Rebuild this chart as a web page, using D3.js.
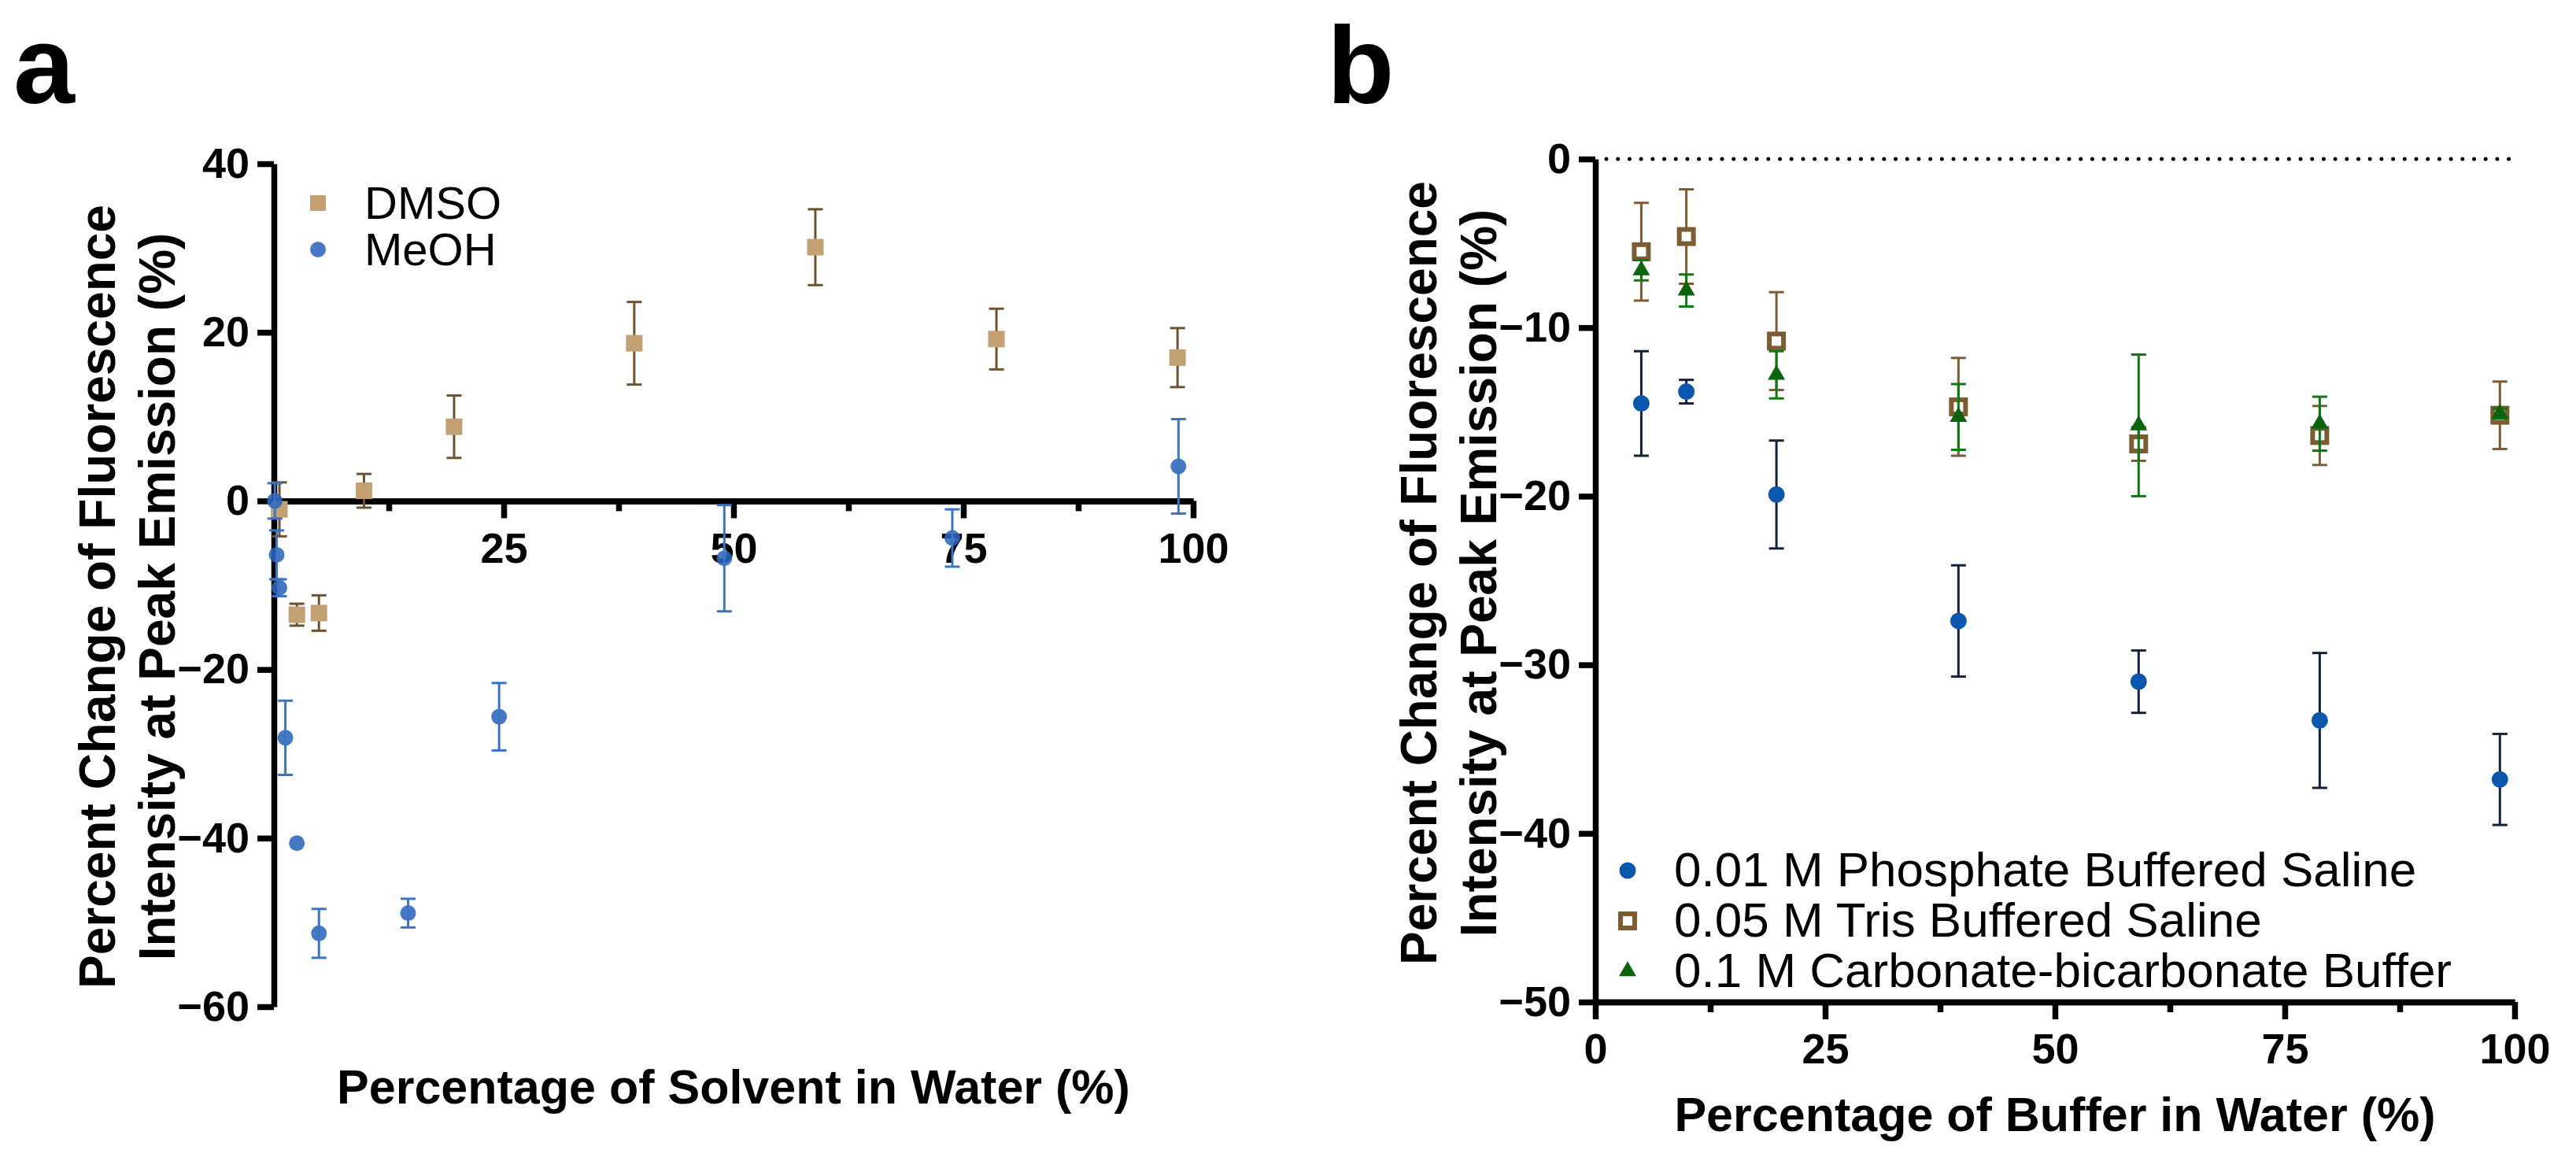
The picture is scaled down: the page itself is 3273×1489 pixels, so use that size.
<!DOCTYPE html>
<html>
<head>
<meta charset="utf-8">
<script src="https://cdn.jsdelivr.net/npm/d3@7"></script>
<style>
  body { margin: 0; background: #fff; }
  text { font-family: 'Liberation Sans', Arial, sans-serif; }
</style>
</head>
<body>
<script>
// panel a: solvent series
const dmsoX = [0.6, 2.5, 4.9, 9.8, 19.6, 39.2, 58.9, 78.6, 98.3]
const dmsoY = [-1.0, -13.5, -13.3, 1.2, 8.8, 18.7, 30.1, 19.2, 17.0]
const dmsoErr = [3.2, 1.3, 2.1, 2.0, 3.7, 4.9, 4.5, 3.6, 3.5]

const meohX = [0.1, 0.3, 0.6, 1.25, 2.5, 4.9, 14.6, 24.5, 49.0, 73.8, 98.4]
const meohY = [0.0, -6.4, -10.3, -28.1, -40.6, -51.3, -48.9, -25.6, -6.8, -4.4, 4.1]
const meohErr = [2.1, 2.9, 1.0, 4.4, 0, 2.9, 1.7, 4.0, 6.3, 3.4, 5.6]

// panel b: buffer series
const bufferX = [5, 9.9, 19.7, 39.5, 59.1, 78.8, 98.4]
const pbsY = [-14.5, -13.8, -19.9, -27.4, -31.0, -33.3, -36.8]
const pbsErr = [3.1, 0.7, 3.2, 3.3, 1.85, 4.0, 2.7]
const trisY = [-5.5, -4.6, -10.8, -14.7, -16.9, -16.4, -15.2]
const trisErr = [2.9, 2.8, 2.9, 2.9, 1.0, 1.75, 2.0]
const carbY = [-6.6, -7.8, -12.8, -15.3, -15.8, -15.7, -15.1]
const carbErr = [0.6, 0.95, 1.4, 1.95, 4.2, 1.6, 0.3]

const xTicksMajor = [25, 50, 75, 100]
const xTicksB = [0, 25, 50, 75, 100]
const xTicksMinor = [12.5, 37.5, 62.5, 87.5]
const yTicksA = [40, 20, 0, -20, -40, -60]
const yTicksB = [0, -10, -20, -30, -40, -50]

const legendA = ['DMSO', 'MeOH']
const legendB = ['0.01 M Phosphate Buffered Saline', '0.05 M Tris Buffered Saline', '0.1 M Carbonate-bicarbonate Buffer']
const yTitle = ['Percent Change of Fluorescence', 'Intensity at Peak Emission (%)']

const width = 3273
const height = 1489
const tickFont = 54

const svg = d3.select('body')
  .append('svg')
  .attr('width', width)
  .attr('height', height)

const zip = (xs, ys, es) => xs.map((x, i) => ({x: x, y: ys[i], e: es[i]}))

const styleAxis = (g) => {
  g.select('.domain').attr('stroke', '#000').attr('stroke-width', 7.5)
  g.selectAll('.tick line').attr('stroke', '#000').attr('stroke-width', 7.5)
  g.selectAll('text')
    .attr('fill', '#000')
    .attr('font-size', tickFont)
    .attr('font-weight', 'bold')
    .attr('font-family', "'Liberation Sans', Arial, sans-serif")
}

const errorBars = (g, data, x, y, color, cap) => {
  const bars = g.append('g')
    .selectAll('g')
    .data(data.filter((d) => d.e > 0))
    .join('g')
    .attr('stroke', color)
    .attr('stroke-width', 3)

  bars.append('line')
    .attr('x1', (d) => x(d.x))
    .attr('x2', (d) => x(d.x))
    .attr('y1', (d) => y(d.y - d.e))
    .attr('y2', (d) => y(d.y + d.e))

  bars.append('line')
    .attr('x1', (d) => x(d.x) - cap)
    .attr('x2', (d) => x(d.x) + cap)
    .attr('y1', (d) => y(d.y + d.e))
    .attr('y2', (d) => y(d.y + d.e))

  bars.append('line')
    .attr('x1', (d) => x(d.x) - cap)
    .attr('x2', (d) => x(d.x) + cap)
    .attr('y1', (d) => y(d.y - d.e))
    .attr('y2', (d) => y(d.y - d.e))
}

const twoLineTitle = (g, x, y) => {
  const t = g.append('text')
    .attr('transform', `translate(${x}, ${y}) rotate(-90)`)
    .attr('text-anchor', 'middle')
    .attr('font-size', 64)
    .attr('font-weight', 'bold')
  t.append('tspan').attr('x', 0).attr('dy', 0).text(yTitle[0])
  t.append('tspan').attr('x', 0).attr('dy', 76).text(yTitle[1])
}

// ---------- panel a ----------
const a = {left: 348, right: 1516, top: 208, bottom: 1279}

const xA = d3.scaleLinear().domain([0, 100]).range([a.left, a.right])
const yA = d3.scaleLinear().domain([-60, 40]).range([a.bottom, a.top])

const gA = svg.append('g')

gA.append('g')
  .attr('transform', `translate(0, ${yA(0)})`)
  .call(d3.axisBottom(xA).tickValues(xTicksMinor).tickSize(13).tickSizeOuter(0).tickFormat(''))
  .call(styleAxis)

gA.append('g')
  .attr('transform', `translate(0, ${yA(0)})`)
  .call(d3.axisBottom(xA).tickValues(xTicksMajor).tickSize(22).tickSizeOuter(0).tickPadding(18))
  .call(styleAxis)

gA.append('g')
  .attr('transform', `translate(${a.left}, 0)`)
  .call(d3.axisLeft(yA).tickValues(yTicksA).tickSize(21).tickSizeOuter(0).tickPadding(10))
  .call(styleAxis)

const dmso = zip(dmsoX, dmsoY, dmsoErr)
const meoh = zip(meohX, meohY, meohErr)

errorBars(gA, dmso, xA, yA, '#6e5230', 9.5)
gA.append('g')
  .selectAll('rect')
  .data(dmso)
  .join('rect')
  .attr('x', (d) => xA(d.x) - 10.5)
  .attr('y', (d) => yA(d.y) - 10.5)
  .attr('width', 21)
  .attr('height', 21)
  .attr('fill', '#c3a172')

gA.append('g')
  .selectAll('circle')
  .data(meoh)
  .join('circle')
  .attr('cx', (d) => xA(d.x))
  .attr('cy', (d) => yA(d.y))
  .attr('r', 10)
  .attr('fill', '#2c65bb')
  .attr('fill-opacity', 0.88)
errorBars(gA, meoh, xA, yA, '#3c74c4', 9.5)

// legend a
const legA = gA.append('g')
legA.append('rect')
  .attr('x', 394).attr('y', 248).attr('width', 20).attr('height', 20)
  .attr('fill', '#c3a172')
legA.append('circle')
  .attr('cx', 404).attr('cy', 317).attr('r', 10)
  .attr('fill', '#2c65bb').attr('fill-opacity', 0.88)
legA.selectAll('text')
  .data(legendA)
  .join('text')
  .attr('x', 463)
  .attr('y', (d, i) => 278 + i * 59)
  .attr('font-size', 58)
  .text((d) => d)

gA.append('text')
  .attr('x', (a.left + a.right) / 2)
  .attr('y', 1402)
  .attr('text-anchor', 'middle')
  .attr('font-size', 61)
  .attr('font-weight', 'bold')
  .text('Percentage of Solvent in Water (%)')

twoLineTitle(gA, 146, 758)

svg.append('text')
  .attr('x', 17).attr('y', 131)
  .attr('font-size', 140).attr('font-weight', 'bold')
  .text('a')

// ---------- panel b ----------
const b = {left: 2027, right: 3195, top: 202, bottom: 1273}

const xB = d3.scaleLinear().domain([0, 100]).range([b.left, b.right])
const yB = d3.scaleLinear().domain([-50, 0]).range([b.bottom, b.top])

const gB = svg.append('g')

gB.append('line')
  .attr('x1', xB(1.2)).attr('x2', xB(100))
  .attr('y1', yB(0)).attr('y2', yB(0))
  .attr('stroke', '#000')
  .attr('stroke-width', 5)
  .attr('stroke-linecap', 'round')
  .attr('stroke-dasharray', '0 14.7')

gB.append('g')
  .attr('transform', `translate(0, ${yB(-50)})`)
  .call(d3.axisBottom(xB).tickValues(xTicksMinor).tickSize(13).tickSizeOuter(0).tickFormat(''))
  .call(styleAxis)

gB.append('g')
  .attr('transform', `translate(0, ${yB(-50)})`)
  .call(d3.axisBottom(xB).tickValues(xTicksB).tickSize(22).tickSizeOuter(0).tickPadding(18))
  .call(styleAxis)

gB.append('g')
  .attr('transform', `translate(${b.left}, 0)`)
  .call(d3.axisLeft(yB).tickValues(yTicksB).tickSize(21).tickSizeOuter(0).tickPadding(10))
  .call(styleAxis)

const pbs = zip(bufferX, pbsY, pbsErr)
const tris = zip(bufferX, trisY, trisErr)
const carb = zip(bufferX, carbY, carbErr)

errorBars(gB, pbs, xB, yB, '#14203c', 9.5)
gB.append('g')
  .selectAll('circle')
  .data(pbs)
  .join('circle')
  .attr('cx', (d) => xB(d.x))
  .attr('cy', (d) => yB(d.y))
  .attr('r', 10.5)
  .attr('fill', '#0b57ad')

errorBars(gB, tris, xB, yB, '#7b5c33', 9.5)
gB.append('g')
  .selectAll('rect')
  .data(tris)
  .join('rect')
  .attr('x', (d) => xB(d.x) - 9)
  .attr('y', (d) => yB(d.y) - 9)
  .attr('width', 18)
  .attr('height', 18)
  .attr('fill', '#fff')
  .attr('stroke', '#7b5c33')
  .attr('stroke-width', 6)

const tri = d3.symbol().type(d3.symbolTriangle).size(210)

errorBars(gB, carb, xB, yB, '#0c7a12', 9.5)
gB.append('g')
  .selectAll('path')
  .data(carb)
  .join('path')
  .attr('transform', (d) => `translate(${xB(d.x)}, ${yB(d.y)})`)
  .attr('d', tri)
  .attr('fill', '#0a640e')

// legend b
const legB = gB.append('g')
const legRows = [1106, 1170, 1234]
legB.append('circle')
  .attr('cx', 2068).attr('cy', legRows[0]).attr('r', 10.5)
  .attr('fill', '#0b57ad')
legB.append('rect')
  .attr('x', 2059).attr('y', legRows[1] - 9).attr('width', 18).attr('height', 18)
  .attr('fill', '#fff').attr('stroke', '#7b5c33').attr('stroke-width', 6)
legB.append('path')
  .attr('transform', `translate(2068, ${legRows[2]})`)
  .attr('d', tri)
  .attr('fill', '#0a640e')

legB.selectAll('text')
  .data(legendB)
  .join('text')
  .attr('x', 2127)
  .attr('y', (d, i) => legRows[i] + 20)
  .attr('font-size', 62)
  .text((d) => d)

gB.append('text')
  .attr('x', (b.left + b.right) / 2)
  .attr('y', 1437)
  .attr('text-anchor', 'middle')
  .attr('font-size', 61)
  .attr('font-weight', 'bold')
  .text('Percentage of Buffer in Water (%)')

twoLineTitle(gB, 1825, 728)

svg.append('text')
  .attr('x', 1686).attr('y', 131)
  .attr('font-size', 140).attr('font-weight', 'bold')
  .text('b')
</script>
</body>
</html>
